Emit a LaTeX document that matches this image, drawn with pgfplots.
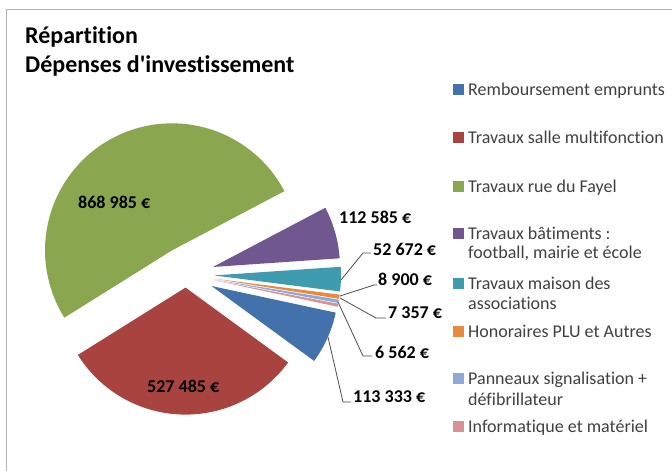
\documentclass[border=0pt]{standalone}
\usepackage{pgfplots}
\pgfplotsset{compat=1.18}
\usepackage{pgfplotstable}
\usepackage{fontspec}
\setmainfont{Carlito}[Ligatures={TeXOff,NoCommon}]

\definecolor{cBlue}{HTML}{4271AB}
\definecolor{cRed}{HTML}{A9433F}
\definecolor{cGreen}{HTML}{8AA64E}
\definecolor{cPurple}{HTML}{70578F}
\definecolor{cTeal}{HTML}{3F9BB0}
\definecolor{cOrange}{HTML}{E88A3E}
\definecolor{cLBlue}{HTML}{8EA9D8}
\definecolor{cPink}{HTML}{D99294}
\definecolor{legtext}{HTML}{404040}

% value, explosion (px), colour
\pgfplotstableread[col sep=comma]{
value,explode,col
113333,28,cBlue
527485,13,cRed
868985,28,cGreen
112585,28,cPurple
52672,28,cTeal
8900,28,cOrange
7357,28,cLBlue
6562,28,cPink
}\piedata

\newcommand\cx{186}
\newcommand\cy{274.6}
\newcommand\R{127}
\newcommand\startang{-12.1}

\newcommand\labfont{\fontsize{18bp}{20bp}\selectfont\bfseries}
\newcommand\legfont{\fontsize{18bp}{20bp}\selectfont\color{legtext}}

\begin{document}
\begin{tikzpicture}
\begin{axis}[hide axis, scale only axis, width=672bp, height=471bp,
  xmin=0, xmax=672, ymin=0, ymax=471, y dir=reverse, clip=false,
  anchor=south west, at={(0,0)}]

\pgfplotstablegetrowsof{\piedata}
\edef\N{\the\numexpr\pgfplotsretval-1\relax}
\def\total{0}
\pgfplotsforeachungrouped \i in {0,...,\N}{%
  \pgfplotstablegetelem{\i}{value}\of\piedata
  \edef\total{\fpeval{\total+\pgfplotsretval}}%
}
\def\cum{0}
\pgfplotsforeachungrouped \i in {0,...,\N}{%
  \pgfplotstablegetelem{\i}{value}\of\piedata \edef\v{\pgfplotsretval}%
  \pgfplotstablegetelem{\i}{explode}\of\piedata \edef\ex{\pgfplotsretval}%
  \pgfplotstablegetelem{\i}{col}\of\piedata \edef\c{\pgfplotsretval}%
  \edef\a{\fpeval{\startang - 360*\cum/\total}}%
  \edef\cum{\fpeval{\cum+\v}}%
  \edef\b{\fpeval{\startang - 360*\cum/\total}}%
  \edef\m{\fpeval{(\a+\b)/2}}%
  \edef\dx{\fpeval{\cx + \ex*cosd(\m)}}%
  \edef\dy{\fpeval{\cy - \ex*sind(\m)}}%
  \edef\cmd{\noexpand\addplot[forget plot, mark=none, draw=none, fill=\c, domain=\b:\a, samples=90]
    ({\dx+\R*cos(x)},{\dy-\R*sin(x)}) -- (axis cs:\dx,\dy) -- cycle;}%
  \cmd
}

% border
\draw[black!30, line width=1bp] (6,471) -- (6,10) -- (672,10);

% title
\node[anchor=base west, inner sep=0pt, font=\fontsize{24bp}{28bp}\selectfont\bfseries] at (25,44) {Répartition};
\node[anchor=base west, inner sep=0pt, font=\fontsize{24bp}{28bp}\selectfont\bfseries] at (25,73) {Dépenses d'investissement};

% leader lines
\draw[black!70, line width=0.8bp] (341,280) -- (363,253) -- (371,253);
\draw[black!70, line width=0.8bp] (340,296) -- (374,285) -- (377,285);
\draw[black!70, line width=0.8bp] (340,298) -- (376,318) -- (386,318);
\draw[black!70, line width=0.8bp] (338,302) -- (363,356) -- (372,356);
\draw[black!70, line width=0.8bp] (328,337) -- (343,402) -- (351,402);

% data labels
\node[anchor=west, inner sep=0pt, font=\labfont] at (78,202) {868 985 €};
\node[anchor=west, inner sep=0pt, font=\labfont] at (147,386) {527 485 €};
\node[anchor=west, inner sep=0pt, font=\labfont] at (339,217) {112 585 €};
\node[anchor=west, inner sep=0pt, font=\labfont] at (373,249) {52 672 €};
\node[anchor=west, inner sep=0pt, font=\labfont] at (378,279) {8 900 €};
\node[anchor=west, inner sep=0pt, font=\labfont] at (388,313) {7 357 €};
\node[anchor=west, inner sep=0pt, font=\labfont] at (375,352) {6 562 €};
\node[anchor=west, inner sep=0pt, font=\labfont] at (353,397) {113 333 €};

% legend
\fill[cBlue]   (453,84) rectangle (464,95);
\fill[cRed]    (453,132) rectangle (464,143);
\fill[cGreen]  (453,181) rectangle (464,192);
\fill[cPurple] (453,228) rectangle (464,239);
\fill[cTeal]   (453,278) rectangle (464,289);
\fill[cOrange] (453,326) rectangle (464,337);
\fill[cLBlue]  (453,373) rectangle (464,384);
\fill[cPink]   (453,421) rectangle (464,432);
\node[anchor=base west, inner sep=0pt, font=\legfont] at (468,95) {Remboursement emprunts};
\node[anchor=base west, inner sep=0pt, font=\legfont] at (468,143) {Travaux salle multifonction};
\node[anchor=base west, inner sep=0pt, font=\legfont] at (468,192) {Travaux rue du Fayel};
\node[anchor=base west, inner sep=0pt, font=\legfont] at (468,239) {Travaux bâtiments :};
\node[anchor=base west, inner sep=0pt, font=\legfont] at (468,258) {football, mairie et école};
\node[anchor=base west, inner sep=0pt, font=\legfont] at (468,289) {Travaux maison des};
\node[anchor=base west, inner sep=0pt, font=\legfont] at (468,309) {associations};
\node[anchor=base west, inner sep=0pt, font=\legfont] at (468,337) {Honoraires PLU et Autres};
\node[anchor=base west, inner sep=0pt, font=\legfont] at (468,384) {Panneaux signalisation +};
\node[anchor=base west, inner sep=0pt, font=\legfont] at (468,405) {défibrillateur};
\node[anchor=base west, inner sep=0pt, font=\legfont] at (468,432) {Informatique et matériel};
\end{axis}
\pgfresetboundingbox
\useasboundingbox (0,0) rectangle (672bp,471bp);
\end{tikzpicture}
\end{document}
